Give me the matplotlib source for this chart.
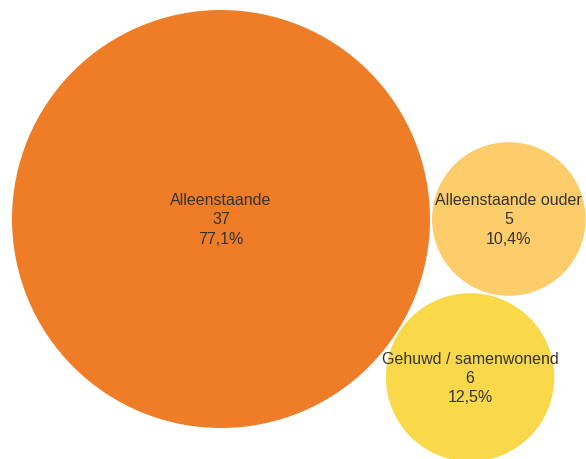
import numpy as np
import matplotlib
matplotlib.use('Agg')
import matplotlib.pyplot as plt
from matplotlib.patches import Circle

labels = ["Alleenstaande", "Alleenstaande ouder", "Gehuwd / samenwonend"]
values = [37, 5, 6]
colours = ["#EF7D28", "#FECD6B", "#F9D94A"]

total = sum(values)
# area-proportional radii, biggest bubble ~209 px
k = 209 / np.sqrt(max(values))
radii = [k * np.sqrt(v) for v in values]
gap = 2.0

# simple packing: big bubble, second to its right, third tangent to both
c1 = np.array([221.0, 220.0])
c2 = c1 + np.array([radii[0] + radii[1] + gap, 0.0])
d1 = radii[0] + radii[2] + gap
d2 = radii[1] + radii[2] + gap
d12 = np.linalg.norm(c2 - c1)
a = (d1**2 - d2**2 + d12**2) / (2 * d12)
h = np.sqrt(d1**2 - a**2)
c3 = c1 + np.array([a, h])
centres = [c1, c2, c3]

fig = plt.figure(figsize=(5.86, 4.6), dpi=100)
ax = fig.add_axes([0, 0, 1, 1])
ax.set_xlim(0, 586)
ax.set_ylim(460, 0)
ax.set_aspect('equal')
ax.axis('off')

for lab, val, col, c, r in zip(labels, values, colours, centres, radii):
    ax.add_patch(Circle(c, r, facecolor=col, edgecolor='none'))
    pct = f"{100 * val / total:.1f}".replace('.', ',') + "%"
    txt = f"{lab}\n{val}\n{pct}"
    ax.text(c[0], c[1], txt, ha='center', va='center', fontsize=11.5,
            family='Liberation Sans', color='#333333', linespacing=1.35)

fig.savefig('out.png', dpi=100)
